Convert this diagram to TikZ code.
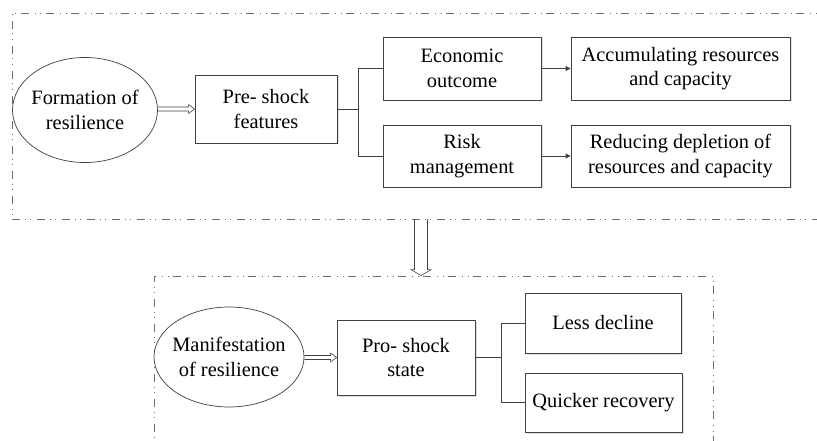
\documentclass[tikz,border=0pt]{standalone}
\usepackage{fontspec}
\setmainfont{LiberationSerif}[Extension=.ttf,UprightFont=*-Regular,BoldFont=*-Bold]
\usetikzlibrary{arrows.meta,calc,shadows,shapes.geometric}
\definecolor{linegray}{RGB}{64,64,64}
\definecolor{framegray}{RGB}{110,110,110}
\tikzset{
  stagebox/.style={draw=linegray,line width=0.9pt,fill=white,align=center,inner sep=0pt,
    drop shadow={opacity=0.25,shadow xshift=1.5pt,shadow yshift=-1.5pt},
    font=\fontsize{20.4}{24.5}\selectfont},
  stageoval/.style={ellipse,draw=linegray,line width=0.7pt,fill=white,align=center,
    inner xsep=-12pt,inner ysep=0pt,font=\fontsize{20.4}{24.5}\selectfont},
  groupframe/.style={draw=framegray,line width=0.8pt,inner sep=0pt,
    dash pattern=on 8pt off 4.5pt on 1pt off 4.5pt on 1pt off 6pt},
  link/.style={draw=linegray,line width=0.9pt},
  hollow/.style={draw=linegray,line width=0.6pt},
}

\begin{document}
\begin{tikzpicture}[x=1pt,y=-1pt]
  \useasboundingbox (0,0) rectangle (817,441);
  \clip (0,0) rectangle (817,441);

  % dash-dot frames
  \node[groupframe,minimum width=818pt,minimum height=206pt] (formframe) at (421,116) {};
  \node[groupframe,minimum width=559pt,minimum height=184pt] (manifframe) at (433.5,368) {};

  % formation part
  \node[stageoval,minimum width=145pt,minimum height=105pt] (form) at (85,110)
    {Formation of\\resilience};
  \node[stagebox,minimum width=142pt,minimum height=68pt] (pre) at (266,109)
    {Pre- shock\\features};
  \node[stagebox,minimum width=158pt,minimum height=63pt] (econ) at (462,68.5)
    {Economic\\outcome};
  \node[stagebox,minimum width=158pt,minimum height=62pt] (risk) at (462,156)
    {Risk\\management};
  \node[stagebox,minimum width=219pt,minimum height=63pt] (accum) at (680.5,68.5)
    {Accumulating resources\\and capacity};
  \node[stagebox,minimum width=219pt,minimum height=62pt] (reduce) at (680.5,156)
    {Reducing depletion of\\resources and capacity};

  % manifestation part
  \node[stageoval,minimum width=150pt,minimum height=100pt] (manif) at (229,357)
    {Manifestation\\of resilience};
  \node[stagebox,minimum width=138pt,minimum height=75pt] (pro) at (406,357.5)
    {Pro- shock\\state};
  \node[stagebox,minimum width=156pt,minimum height=60pt] (less) at (603,323)
    {Less decline};
  \node[stagebox,minimum width=157pt,minimum height=59pt] (quick) at (603.5,402.5)
    {Quicker recovery};

  % forks
  \draw[link] (pre.east) -- ++(21,0) coordinate (prefork) |- (econ.west);
  \draw[link] (prefork) |- (risk.west);
  \draw[link] (pro.east) -- ++(26,0) coordinate (profork) |- (less.west);
  \draw[link] (profork) |- (quick.west);
  \draw[link,-{Triangle[length=5pt,width=5pt]}] (econ) -- (accum);
  \draw[link,-{Triangle[length=5pt,width=5pt]}] (risk) -- (reduce);

  % hollow arrows
  \draw[hollow] ($(form.east |- pre.west)+(0,-2)$) -- ($(pre.west)+(-6,-2)$)
    -- ($(pre.west)+(-6,-4.5)$) -- (pre.west) -- ($(pre.west)+(-6,4.5)$)
    -- ($(pre.west)+(-6,2)$) -- ($(form.east |- pre.west)+(0,2)$);
  \draw[hollow] ($(manif.east |- pro.west)+(0,-2)$) -- ($(pro.west)+(-6,-2)$)
    -- ($(pro.west)+(-6,-4.5)$) -- (pro.west) -- ($(pro.west)+(-6,4.5)$)
    -- ($(pro.west)+(-6,2)$) -- ($(manif.east |- pro.west)+(0,2)$);
  \coordinate (shocktip) at (formframe.south |- manifframe.north);
  \draw[hollow] ($(formframe.south)+(-6.5,0)$) -- ($(shocktip)+(-6.5,-6)$)
    -- ($(shocktip)+(-10,-6)$) -- (shocktip) -- ($(shocktip)+(10,-6)$)
    -- ($(shocktip)+(6.5,-6)$) -- ($(formframe.south)+(6.5,0)$);
\end{tikzpicture}
\end{document}
